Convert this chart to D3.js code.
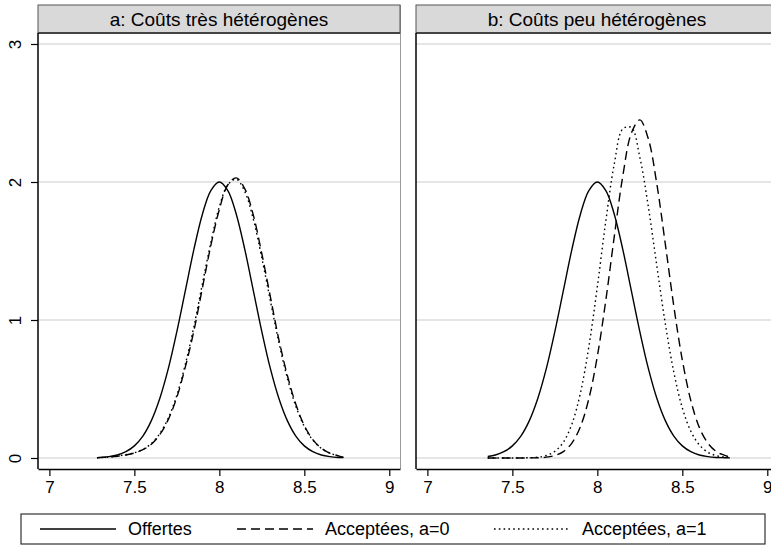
<!DOCTYPE html>
<html>
<head>
<meta charset="utf-8">
<script src="https://cdn.jsdelivr.net/npm/d3@7"></script>
<style>
  body { margin: 0; background: #fff; }
  svg { display: block; font-family: "Liberation Sans", Arial, Helvetica, sans-serif; }
</style>
</head>
<body>
<script>
// ---------------- data ----------------
const panelTitles = ["a: Coûts très hétérogènes", "b: Coûts peu hétérogènes"];
const seriesNames = ["Offertes", "Acceptées, a=0", "Acceptées, a=1"];
const xTicks = [7, 7.5, 8, 8.5, 9];
const yTicks = [0, 1, 2, 3];

// panel a
const xLeft = [7.28, 7.35, 7.40, 7.45, 7.50, 7.55, 7.60, 7.65, 7.70, 7.75, 7.80, 7.85, 7.90, 7.95, 8.00,
               8.05, 8.10, 8.15, 8.20, 8.25, 8.30, 8.35, 8.40, 8.45, 8.50, 8.55, 8.60, 8.65, 8.70, 8.73];
const offertesLeft = [0.003, 0.010, 0.022, 0.046, 0.088, 0.159, 0.271, 0.433, 0.649, 0.916, 1.213, 1.510, 1.765, 1.938, 2.000,
                      1.938, 1.765, 1.510, 1.213, 0.916, 0.649, 0.433, 0.271, 0.159, 0.088, 0.046, 0.022, 0.010, 0.004, 0.003];
const acc0Left = [0.002, 0.007, 0.013, 0.022, 0.036, 0.060, 0.100, 0.170, 0.280, 0.440, 0.660, 0.920, 1.230, 1.540, 1.800,
                  1.980, 2.030, 1.950, 1.760, 1.480, 1.170, 0.860, 0.600, 0.390, 0.235, 0.133, 0.071, 0.035, 0.016, 0.004];
const acc1Left = [0.002, 0.007, 0.014, 0.024, 0.038, 0.063, 0.105, 0.178, 0.290, 0.455, 0.680, 0.950, 1.260, 1.560, 1.820,
                  1.980, 2.020, 1.930, 1.730, 1.450, 1.140, 0.840, 0.580, 0.375, 0.228, 0.130, 0.070, 0.035, 0.016, 0.004];

// panel b
const xRight = [7.355, 7.40, 7.45, 7.50, 7.55, 7.60, 7.65, 7.70, 7.75, 7.80, 7.85, 7.90, 7.95, 8.00,
                8.05, 8.10, 8.15, 8.20, 8.25, 8.30, 8.35, 8.40, 8.45, 8.50, 8.55, 8.60, 8.65, 8.70, 8.75, 8.78];
const offertesRight = [0.011, 0.022, 0.046, 0.088, 0.159, 0.271, 0.433, 0.649, 0.916, 1.213, 1.510, 1.765, 1.938, 2.000,
                       1.938, 1.765, 1.510, 1.213, 0.916, 0.649, 0.433, 0.271, 0.159, 0.088, 0.046, 0.022, 0.010, 0.004, 0.002, 0.001];
const acc0Right = [0.000, 0.000, 0.000, 0.000, 0.000, 0.001, 0.002, 0.006, 0.018, 0.046, 0.108, 0.226, 0.429, 0.737,
                   1.144, 1.608, 2.045, 2.353, 2.450, 2.313, 1.986, 1.550, 1.100, 0.710, 0.417, 0.222, 0.108, 0.047, 0.019, 0.006];
const acc1Right = [0.000, 0.000, 0.000, 0.000, 0.001, 0.002, 0.006, 0.018, 0.048, 0.115, 0.245, 0.469, 0.806, 1.242,
                   1.719, 2.133, 2.385, 2.395, 2.179, 1.821, 1.392, 0.973, 0.622, 0.363, 0.194, 0.095, 0.042, 0.017, 0.007, 0.004];

// --------------- layout ---------------
const W = 771, H = 556;
const plotTop = 33, plotBottom = 469, headerTop = 5, panelW = 362;
const panelLefts = [38, 416];
const xDomain = [6.933, 9.063];
const yDomain = [-0.0797, 3.0797];
const dashStyles = [null, "9,5", "1.6,3.2"];
const FONT = 18;

const panels = [
  { title: panelTitles[0], x: xLeft, series: [offertesLeft, acc0Left, acc1Left] },
  { title: panelTitles[1], x: xRight, series: [offertesRight, acc0Right, acc1Right] }
];

const svg = d3.select("body").append("svg").attr("width", W).attr("height", H);
svg.append("rect").attr("width", W).attr("height", H).attr("fill", "#fff");

const y = d3.scaleLinear().domain(yDomain).range([plotBottom, plotTop]);

panels.forEach((p, i) => {
  const left = panelLefts[i];
  const x = d3.scaleLinear().domain(xDomain).range([left, left + panelW]);
  const g = svg.append("g");

  g.selectAll("line.grid").data(yTicks).join("line")
    .attr("x1", left).attr("x2", left + panelW)
    .attr("y1", d => y(d)).attr("y2", d => y(d))
    .attr("stroke", "#dcdcdc").attr("stroke-width", 1.5);

  g.append("line").attr("x1", left + panelW + 0.5).attr("x2", left + panelW + 0.5)
    .attr("y1", headerTop).attr("y2", plotBottom)
    .attr("stroke", "#9a9a9a").attr("stroke-width", 1);

  g.append("rect").attr("x", left).attr("y", headerTop)
    .attr("width", panelW).attr("height", plotTop - headerTop)
    .attr("fill", "#d9d9d9").attr("stroke", "#555").attr("stroke-width", 1);
  g.append("line").attr("x1", left).attr("x2", left + panelW)
    .attr("y1", plotTop).attr("y2", plotTop)
    .attr("stroke", "#444").attr("stroke-width", 2);
  g.append("text").attr("x", left + panelW / 2).attr("y", headerTop + 21)
    .attr("text-anchor", "middle").attr("font-size", FONT + 1).attr("fill", "#000")
    .text(p.title);

  const line = d3.line().x(d => x(d[0])).y(d => y(d[1])).curve(d3.curveCatmullRom);
  p.series.forEach((s, k) => {
    const pts = p.x.map((xv, j) => [xv, s[j]]);
    g.append("path").datum(pts).attr("d", line)
      .attr("fill", "none").attr("stroke", "#000").attr("stroke-width", 1.4)
      .attr("stroke-dasharray", dashStyles[k]);
  });

  const xa = g.append("g").attr("transform", `translate(0,${plotBottom})`)
    .call(d3.axisBottom(x).tickValues(xTicks).tickSize(7).tickSizeOuter(0).tickPadding(5).tickFormat(d => String(d)));
  xa.select(".domain").attr("stroke", "#000").attr("stroke-width", 1.5);
  xa.selectAll(".tick line").attr("stroke", "#000").attr("stroke-width", 1.2);
  xa.selectAll(".tick text").attr("font-size", FONT - 1).attr("fill", "#000")
    .attr("font-family", "Liberation Sans, Arial, sans-serif");

  g.append("line").attr("x1", left).attr("x2", left).attr("y1", plotTop).attr("y2", plotBottom)
    .attr("stroke", "#000").attr("stroke-width", 1.5);

  if (i === 0) {
    const ya = g.append("g").attr("transform", `translate(${left},0)`)
      .call(d3.axisLeft(y).tickValues(yTicks).tickSize(7).tickSizeOuter(0).tickFormat(d => String(d)));
    ya.select(".domain").remove();
    ya.selectAll(".tick line").attr("stroke", "#000").attr("stroke-width", 1.2);
    ya.selectAll(".tick text")
      .attr("x", 0).attr("y", -17).attr("dy", null)
      .attr("transform", "rotate(-90)")
      .attr("text-anchor", "middle")
      .attr("font-size", FONT - 1).attr("fill", "#000")
      .attr("font-family", "Liberation Sans, Arial, sans-serif");
  }
});

// --------------- legend ---------------
const lg = svg.append("g");
const boxX = 21, boxY = 514, boxW = 744, boxH = 30;
lg.append("rect").attr("x", boxX).attr("y", boxY).attr("width", boxW).attr("height", boxH)
  .attr("fill", "#fff").attr("stroke", "#333").attr("stroke-width", 1.2);
const keyLen = 76, keyGap = 12;
const textStarts = [128, 325, 582];
seriesNames.forEach((n, k) => {
  const tx = textStarts[k];
  const cy = boxY + boxH / 2;
  lg.append("line").attr("x1", tx - keyGap - keyLen).attr("x2", tx - keyGap).attr("y1", cy).attr("y2", cy)
    .attr("stroke", "#000").attr("stroke-width", 1.4).attr("stroke-dasharray", dashStyles[k]);
  lg.append("text").attr("x", tx).attr("y", cy + 6).attr("font-size", FONT).attr("fill", "#000").text(n);
});
</script>
</body>
</html>
